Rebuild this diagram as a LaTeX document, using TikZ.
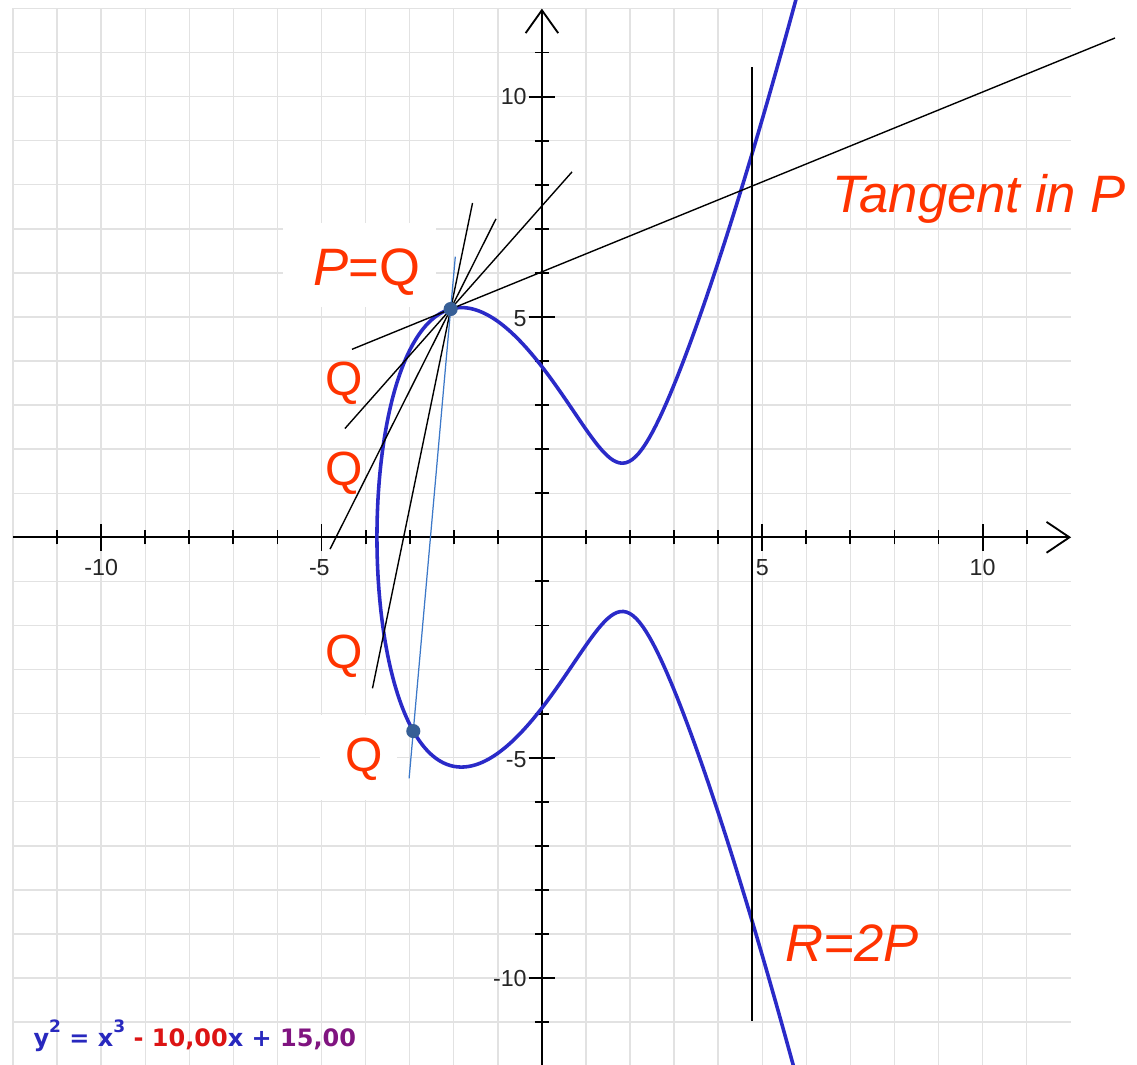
\documentclass[tikz,border=0pt]{standalone}
\usepackage{fontspec}
\setmainfont{Liberation Sans}
\newfontfamily\eqfont{DejaVu Sans}
\definecolor{gridgray}{RGB}{226,226,226}
\definecolor{curveblue}{RGB}{42,42,200}
\definecolor{chordblue}{RGB}{60,120,200}
\definecolor{dotblue}{RGB}{55,95,150}
\definecolor{labelred}{RGB}{255,51,0}
\definecolor{eqblue}{RGB}{40,40,190}
\definecolor{eqred}{RGB}{220,20,20}
\definecolor{eqpurple}{RGB}{128,20,128}
\begin{document}
\begin{tikzpicture}[x=1cm,y=1cm,
  gridline/.style={draw=gridgray, line width=0.9pt},
  axisline/.style={draw=black, line width=1.2pt},
  curveline/.style={draw=curveblue, line width=2.3pt, line join=round},
  chord/.style={draw=black, line width=0.9pt},
  bluechord/.style={draw=chordblue, line width=0.8pt},
  ticklbl/.style={inner sep=0pt, text=black!85, font=\fontsize{15}{17}\selectfont},
  biglbl/.style={inner sep=0pt, text=labelred, font=\fontsize{34}{38}\selectfont\itshape},
  qlbl/.style={inner sep=0pt, text=labelred, font=\fontsize{31}{36}\selectfont},
  dot/.style={fill=dotblue}
]
\useasboundingbox (-12.296,-11.951) rectangle (13.503,12.192);
\begin{scope}
\clip (-12.296,-11.951) rectangle (13.503,12.192);
\fill[white] (-12.296,-11.951) rectangle (13.503,12.192);
% grid
\foreach \x in {-12,...,11} \draw[gridline] (\x,-12.5) -- (\x,12);
\foreach \y in {-12,...,12} \draw[gridline] (-12,\y) -- (12,\y);
% white boxes behind labels
\fill[white] (-5.875,5.225) rectangle (-2.404,7.131);
\fill[white] (-5.032,-4.028) rectangle (-3.285,-5.97);
% axes
\draw[axisline] (-12,0) -- (11.97,0);
\draw[axisline] (11.45,0.35) -- (11.97,0) -- (11.45,-0.35);
\draw[axisline] (0,-12.5) -- (0,11.96);
\draw[axisline] (-0.37,11.44) -- (0,11.96) -- (0.37,11.44);
\foreach \i in {-11,-9,-8,-7,-6,-4,-3,-2,-1,1,2,3,4,6,7,8,9,11} {
  \draw[axisline] (\i,-0.16) -- (\i,0.16);
  \draw[axisline] (-0.16,\i) -- (0.16,\i);
}
\foreach \i in {-10,-5,5,10} {
  \draw[axisline] (\i,-0.3) -- (\i,0.3);
  \draw[axisline] (-0.3,\i) -- (0.3,\i);
}
% tick labels
\node[ticklbl] (xm10) at (-10,-0.69) {-10};
\node[ticklbl] (xm5) at (-5.05,-0.69) {-5};
\node[ticklbl] (xp5) at (5,-0.69) {5};
\node[ticklbl] (xp10) at (10,-0.69) {10};
\node[ticklbl, anchor=east] (yp10) at (-0.34,10) {10};
\node[ticklbl, anchor=east] (yp5) at (-0.34,4.97) {5};
\node[ticklbl, anchor=east] (ym5) at (-0.34,-5.05) {-5};
\node[ticklbl, anchor=east] (ym10) at (-0.34,-10) {-10};
% curve y^2 = x^3 - 10x + 15
\draw[curveline] plot[domain=-3.09:3.09, samples=401, variable=\t]
  ({-3.7427+\t*\t}, {sign(\t)*sqrt(max(0,(-3.7427+\t*\t)*(-3.7427+\t*\t)*(-3.7427+\t*\t)-10*(-3.7427+\t*\t)+15))});
% points
\coordinate (P) at (-2.07,5.18);
\coordinate (Q) at (-2.918,-4.397);
% secants and tangent through P
\coordinate (t1a) at (-4.309,4.266);
\coordinate (t1b) at (13.004,11.330);
\coordinate (s2a) at (-4.47,2.468);
\coordinate (s2b) at (0.683,8.291);
\coordinate (s3a) at (-4.808,-0.269);
\coordinate (s3b) at (-1.042,7.226);
\coordinate (s4a) at (-3.844,-3.426);
\coordinate (s4b) at (-1.574,7.586);
\coordinate (s5a) at (-3.013,-5.469);
\coordinate (s5b) at (-1.965,6.367);
\draw[chord] (t1a) -- (t1b);
\draw[chord] (s2a) -- (s2b);
\draw[chord] (s3a) -- (s3b);
\draw[chord] (s4a) -- (s4b);
\draw[bluechord] (s5a) -- (s5b);
% vertical line through R
\coordinate (ra) at (4.767,10.665);
\coordinate (rb) at (4.767,-10.98);
\draw[chord] (ra) -- (rb);
\fill[dot] (P) circle (0.16);
\fill[dot] (Q) circle (0.16);
% labels
\node[biglbl, anchor=base west] (tan) at (6.578,7.359) {Tangent in P};
\node[biglbl, anchor=base west] (R) at (5.514,-9.63) {R=2P};
\node[biglbl, anchor=base west] (PQ) at (-5.19,5.725) {P\upshape=Q};
\node[qlbl] (q1) at (-4.479,3.50) {Q};
\node[qlbl] (q2) at (-4.479,1.457) {Q};
\node[qlbl] (q3) at (-4.479,-2.694) {Q};
\node[qlbl] (q4) at (-4.025,-5.031) {Q};
% equation
\node[anchor=base west, inner sep=0pt] (eq) at (-11.541,-11.559) {\eqfont\bfseries\fontsize{15.5}{18}\selectfont
  \textcolor{eqblue}{y\raisebox{9pt}{\fontsize{11}{11}\selectfont 2} = x\raisebox{9pt}{\fontsize{11}{11}\selectfont 3}} \textcolor{eqred}{- 10,00}\textcolor{eqblue}{x +} \textcolor{eqpurple}{15,00}};
\end{scope}
\end{tikzpicture}
\end{document}
